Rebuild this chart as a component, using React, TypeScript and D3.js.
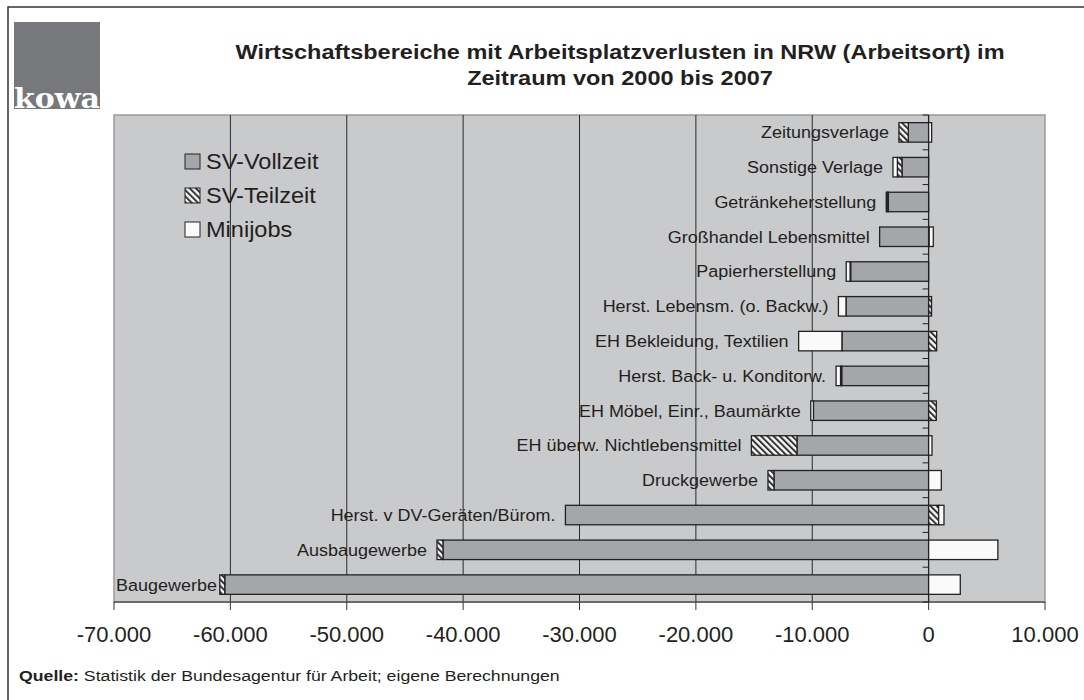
import React, { useEffect, useRef } from "react";
import * as d3 from "d3";

const categories = [
  "Zeitungsverlage",
  "Sonstige Verlage",
  "Getränkeherstellung",
  "Großhandel Lebensmittel",
  "Papierherstellung",
  "Herst. Lebensm. (o. Backw.)",
  "EH Bekleidung, Textilien",
  "Herst. Back- u. Konditorw.",
  "EH Möbel, Einr., Baumärkte",
  "EH überw. Nichtlebensmittel",
  "Druckgewerbe",
  "Herst. v DV-Geräten/Bürom.",
  "Ausbaugewerbe",
  "Baugewerbe",
];
const svVollzeit = [-1744, -2290, -3460, -4210, -6700, -7100, -7450, -7470, -9900, -11310, -13290, -31210, -41730, -60480];
const svTeilzeit = [-808, -395, -100, 50, -50, 250, 690, -100, 660, -3920, -515, 860, -515, -430];
const minijobs = [258, -378, -80, 350, -330, -650, -3720, -380, -230, 290, 1090, 460, 5950, 2720];
const seriesNames = ["SV-Vollzeit", "SV-Teilzeit", "Minijobs"];
const xTicks = [-70000, -60000, -50000, -40000, -30000, -20000, -10000, 0, 10000];
const titleLines = [
  "Wirtschaftsbereiche mit Arbeitsplatzverlusten in NRW (Arbeitsort) im",
  "Zeitraum von 2000 bis 2007",
];
const sourceLabel = "Quelle:";
const sourceText = " Statistik der Bundesagentur für Arbeit; eigene Berechnungen";
const logoText = "kowa";

const W = 1084;
const H = 700;
const plot = { left: 114, right: 1045, top: 115, bottom: 602 };
const FONT = "'Liberation Sans', Arial, Helvetica, sans-serif";
const C = {
  bg: "#c9cacc",
  gray: "#a5a6a9",
  white: "#fafafa",
  dark: "#222222",
};

export default function App() {
  const ref = useRef<SVGSVGElement | null>(null);

  useEffect(() => {
    const svg = d3.select(ref.current);
    svg.selectAll("*").remove();

    const defs = svg.append("defs");
    const pat = defs
      .append("pattern")
      .attr("id", "hatch")
      .attr("patternUnits", "userSpaceOnUse")
      .attr("width", 4.4)
      .attr("height", 4.4)
      .attr("patternTransform", "rotate(-45)");
    pat.append("rect").attr("width", 4.4).attr("height", 4.4).attr("fill", C.white);
    pat.append("rect").attr("width", 2).attr("height", 4.4).attr("fill", "#333");

    const fills = [C.gray, "url(#hatch)", C.white];

    // outer frame
    svg
      .append("rect")
      .attr("x", 8)
      .attr("y", 7)
      .attr("width", 1200)
      .attr("height", 900)
      .attr("fill", "#fff")
      .attr("stroke", "#333")
      .attr("stroke-width", 1.5);

    // logo
    svg.append("rect").attr("x", 14).attr("y", 22).attr("width", 86).attr("height", 87).attr("fill", "#77787b");
    svg
      .append("text")
      .attr("x", 14)
      .attr("y", 108)
      .attr("textLength", 86)
      .attr("lengthAdjust", "spacingAndGlyphs")
      .attr("fill", "#fff")
      .style("font-family", "'DejaVu Serif', serif")
      .style("font-weight", "bold")
      .style("font-size", "28px")
      .text(logoText);

    // title
    const title = svg
      .append("g")
      .attr("transform", "translate(620,0) scale(1.12,1)")
      .style("font-family", FONT)
      .style("font-weight", "bold")
      .style("font-size", "21px")
      .attr("fill", "#231f20")
      .attr("text-anchor", "middle");
    titleLines.forEach((t, i) => {
      title.append("text").attr("x", 0).attr("y", 59 + i * 26).text(t);
    });

    const x = d3.scaleLinear().domain([-70000, 10000]).range([plot.left, plot.right]);
    const y = d3
      .scaleBand<string>()
      .domain(categories)
      .range([plot.top, plot.bottom])
      .paddingInner(0.44)
      .paddingOuter(0.22);

    // plot background
    svg
      .append("rect")
      .attr("x", plot.left)
      .attr("y", plot.top)
      .attr("width", plot.right - plot.left)
      .attr("height", plot.bottom - plot.top)
      .attr("fill", C.bg)
      .attr("stroke", "#9a9a9c")
      .attr("stroke-width", 1.5);

    // gridlines
    svg
      .append("g")
      .selectAll("line")
      .data(xTicks.filter((t) => t > -70000 && t < 0))
      .join("line")
      .attr("x1", (d) => x(d))
      .attr("x2", (d) => x(d))
      .attr("y1", plot.top)
      .attr("y2", plot.bottom)
      .attr("stroke", "#2a2a2a")
      .attr("stroke-width", 1);

    // x axis line + ticks
    svg
      .append("line")
      .attr("x1", plot.left)
      .attr("x2", plot.right)
      .attr("y1", plot.bottom)
      .attr("y2", plot.bottom)
      .attr("stroke", "#555")
      .attr("stroke-width", 1.6);
    svg
      .append("g")
      .selectAll("line")
      .data(xTicks)
      .join("line")
      .attr("x1", (d) => x(d))
      .attr("x2", (d) => x(d))
      .attr("y1", plot.bottom)
      .attr("y2", plot.bottom + 8)
      .attr("stroke", "#333")
      .attr("stroke-width", 1);

    const locale = d3.formatLocale({
      decimal: ",",
      thousands: ".",
      grouping: [3],
      currency: ["", "€"],
      minus: "-",
    } as any);
    const fmt = locale.format(",");
    svg
      .append("g")
      .selectAll("text")
      .data(xTicks)
      .join("text")
      .attr("x", (d) => x(d))
      .attr("y", 642)
      .attr("text-anchor", "middle")
      .style("font-family", FONT)
      .style("font-size", "22px")
      .attr("fill", "#231f20")
      .text((d) => fmt(d));

    // category axis at zero
    const step = y.step();
    svg
      .append("line")
      .attr("x1", x(0))
      .attr("x2", x(0))
      .attr("y1", plot.top)
      .attr("y2", plot.bottom)
      .attr("stroke", C.dark)
      .attr("stroke-width", 1.3);
    svg
      .append("g")
      .selectAll("line")
      .data(d3.range(categories.length + 1))
      .join("line")
      .attr("x1", x(0) - 6)
      .attr("x2", x(0))
      .attr("y1", (i) => plot.top + i * step)
      .attr("y2", (i) => plot.top + i * step)
      .attr("stroke", C.dark)
      .attr("stroke-width", 1);

    // stacked bars
    const rows = categories.map((c, i) => ({ cat: c, v: svVollzeit[i], t: svTeilzeit[i], m: minijobs[i] }));
    const stack = d3
      .stack<any>()
      .keys(["v", "t", "m"])
      .offset(d3.stackOffsetDiverging);
    const series = stack(rows);

    series.forEach((s, si) => {
      svg
        .append("g")
        .selectAll("rect")
        .data(s.filter((d) => d[1] !== d[0]))
        .join("rect")
        .attr("x", (d) => x(Math.min(d[0], d[1])))
        .attr("width", (d) => Math.abs(x(d[1]) - x(d[0])))
        .attr("y", (d) => y(d.data.cat)!)
        .attr("height", y.bandwidth())
        .attr("fill", fills[si])
        .attr("stroke", C.dark)
        .attr("stroke-width", 1.3);
    });

    // category labels
    const lg = svg.append("g");
    rows.forEach((r, i) => {
      const minVal = d3.min(series.map((s) => Math.min(s[i][0], s[i][1]))) as number;
      let xe = x(minVal) - 10;
      const yc = (y(r.cat) as number) + y.bandwidth() / 2;
      const sx = 1.09;
      const g = lg.append("g").attr("transform", `translate(${xe},${yc}) scale(${sx},1)`);
      const t = g
        .append("text")
        .attr("x", 0)
        .attr("y", 0)
        .attr("dy", "0.36em")
        .attr("text-anchor", "end")
        .style("font-family", FONT)
        .style("font-size", "16.5px")
        .attr("fill", "#231f20")
        .text(r.cat);
      const w = (t.node() as SVGTextElement).getComputedTextLength() * sx;
      if (xe - w < plot.left + 2) {
        xe = plot.left + 2 + w;
        g.attr("transform", `translate(${xe},${yc}) scale(${sx},1)`);
      }
    });

    // legend
    const leg = svg.append("g");
    seriesNames.forEach((n, i) => {
      const yy = 154 + i * 34;
      leg
        .append("rect")
        .attr("x", 185)
        .attr("y", yy)
        .attr("width", 15)
        .attr("height", 15)
        .attr("fill", fills[i])
        .attr("stroke", C.dark)
        .attr("stroke-width", 1);
      leg
        .append("g")
        .attr("transform", `translate(206,${yy + 7.5}) scale(1.07,1)`)
        .append("text")
        .attr("dy", "0.36em")
        .style("font-family", FONT)
        .style("font-size", "22px")
        .attr("fill", "#231f20")
        .text(n);
    });

    // source
    const src = svg
      .append("g")
      .attr("transform", "translate(19,681) scale(1.18,1)")
      .append("text")
      .style("font-family", FONT)
      .style("font-size", "15px")
      .attr("fill", "#231f20");
    src.append("tspan").style("font-weight", "bold").text(sourceLabel);
    src.append("tspan").text(sourceText);
  }, []);

  return (
    <svg
      ref={ref}
      width={W}
      height={H}
      style={{ position: "absolute", left: 0, top: 0, display: "block" }}
    />
  );
}
